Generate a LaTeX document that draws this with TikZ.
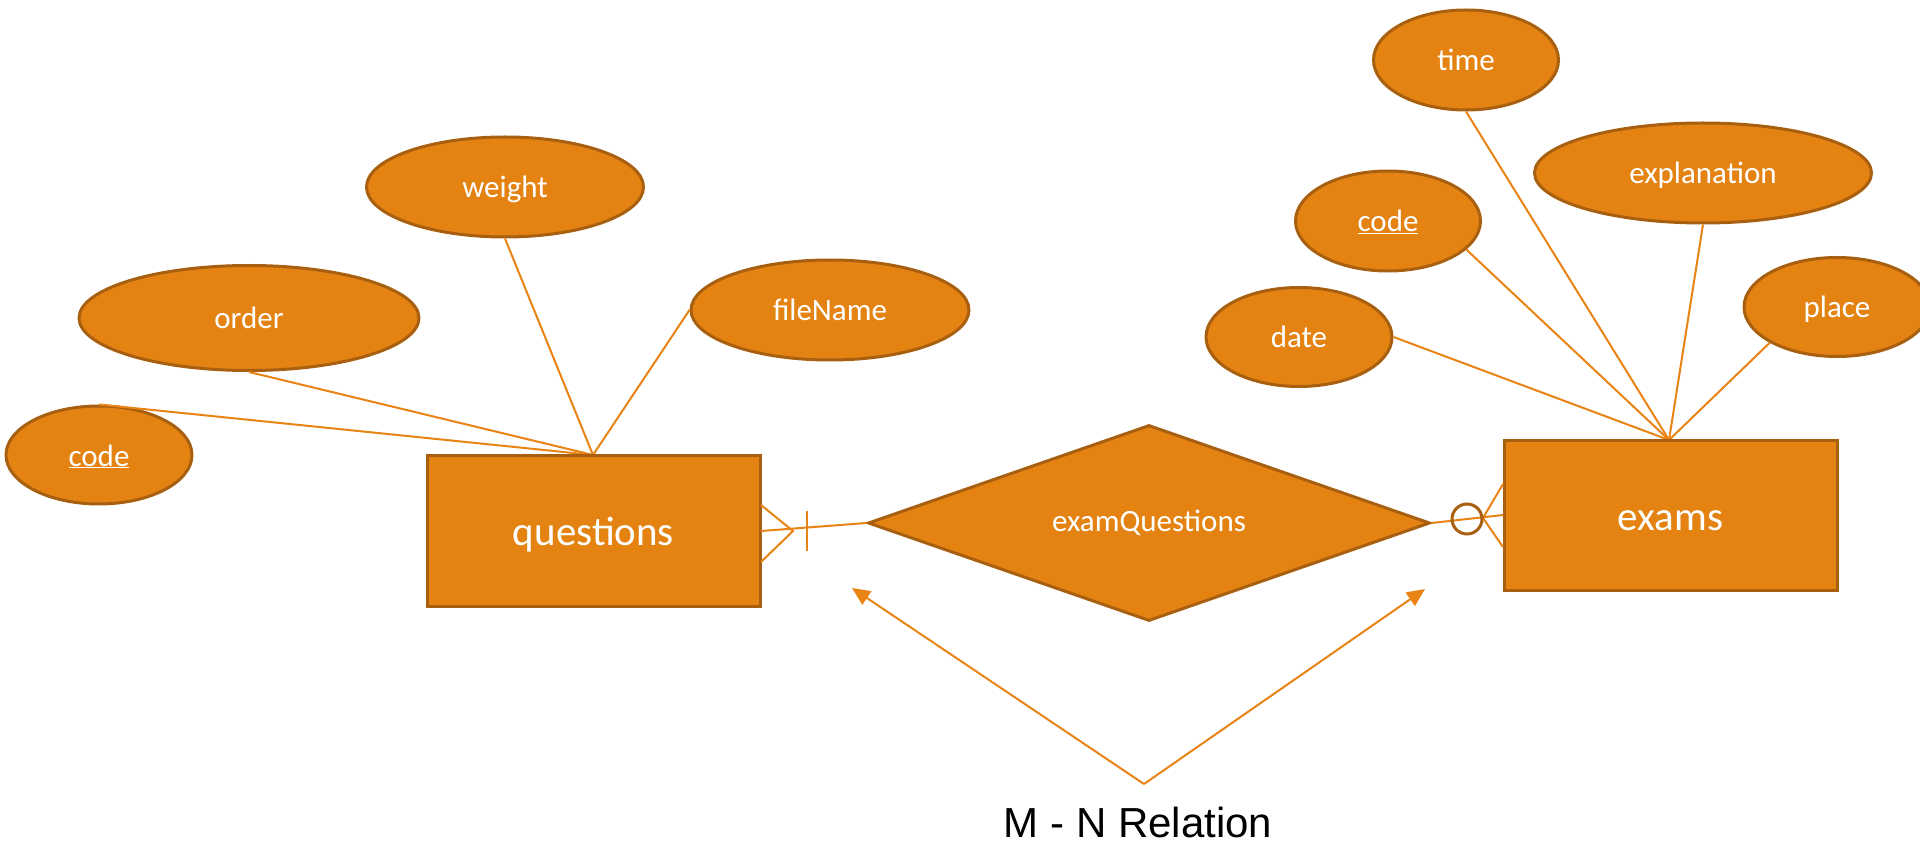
\documentclass[tikz,border=0pt]{standalone}
\usepackage{fontspec}
\setmainfont{Carlito}
\newfontfamily\arialfont{Liberation Sans}
\usetikzlibrary{shapes.geometric,arrows.meta}
\definecolor{fillorange}{RGB}{228,131,18}
\definecolor{edgebrown}{RGB}{168,96,16}
\definecolor{lineorange}{RGB}{232,131,20}
\tikzset{
  entity/.style={draw=edgebrown,fill=fillorange,line width=3pt,inner sep=0pt,
    text=white,font=\fontsize{41pt}{41pt}\selectfont,text height=38pt,text depth=8pt},
  attr/.style={ellipse,draw=edgebrown,fill=fillorange,line width=3pt,inner sep=0pt,
    text=white,font=\fontsize{31pt}{31pt}\selectfont,text height=28pt,text depth=6pt},
  rel/.style={diamond,draw=edgebrown,fill=fillorange,line width=3pt,inner sep=0pt,
    shape aspect=2.87,
    text=white,font=\fontsize{31pt}{31pt}\selectfont},
  conn/.style={draw=lineorange,line width=2pt},
  ring/.style={draw=edgebrown,line width=3pt},
  pointer/.style={draw=lineorange,line width=2pt,-{Triangle[length=18pt,width=16pt]}}
}
\begin{document}
\begin{tikzpicture}[x=1pt,y=-1pt]
\useasboundingbox (0,0) rectangle (1920,850);
\coordinate (qtop) at (593,455);
\coordinate (etop) at (1669,440);
% attributes
\node[attr,minimum width=186pt,minimum height=98pt] (qcode) at (99,455) {\underline{code}};
\node[attr,minimum width=340pt,minimum height=105pt] (order) at (249,318) {order};
\node[attr,minimum width=277pt,minimum height=100pt] (weight) at (505,187) {weight};
\node[attr,minimum width=278pt,minimum height=100pt] (fileName) at (830,310) {fileName};
\node[attr,minimum width=185pt,minimum height=100pt] (time) at (1466,60) {time};
\node[attr,minimum width=337pt,minimum height=100pt] (explanation) at (1703,173) {explanation};
\node[attr,minimum width=185pt,minimum height=100pt] (ecode) at (1388,221) {\underline{code}};
\node[attr,minimum width=186pt,minimum height=99pt] (date) at (1299,337) {date};
\node[attr,minimum width=186pt,minimum height=99pt] (place) at (1837,307) {place};
\draw[conn] (qcode.north) -- (qtop);
\draw[conn] (order.south) -- (qtop);
\draw[conn] (weight.south) -- (qtop);
\draw[conn] (fileName.west) -- (qtop);
\draw[conn] (time.south) -- (etop);
\draw[conn] (explanation.south) -- (etop);
\draw[conn] (ecode.-20) -- (etop);
\draw[conn] (date.east) -- (etop);
\draw[conn] (place.208) -- (etop);
% entities
\node[entity,minimum width=333pt,minimum height=151pt] (questions) at (593.5,530.5) {questions};
\node[entity,minimum width=333pt,minimum height=150pt] (exams) at (1670.5,515) {exams};
\node[rel,minimum width=562pt,minimum height=196pt] (examQuestions) at (1149,523) {examQuestions};
% questions side: one-or-many
\coordinate (qa) at (761,531);
\coordinate (qf) at (793,531);
\coordinate (qu) at (761,505);
\coordinate (ql) at (761,562);
\coordinate (qb1) at (807,511);
\coordinate (qb2) at (807,551);
\draw[conn] (qa) -- (examQuestions.west);
\draw[conn] (qu) -- (qf) -- (ql);
\draw[conn] (qb1) -- (qb2);
% exams side: zero-or-many
\coordinate (ea) at (1503,515);
\coordinate (ef) at (1483,518);
\coordinate (eu) at (1503,484);
\coordinate (el) at (1503,547);
\draw[conn] (examQuestions.east) -- (ea);
\draw[conn] (eu) -- (ef) -- (el);
\node[ring,circle,minimum size=30pt,inner sep=0pt] (zero) at (1467,519) {};
% M-N pointers
\coordinate (apex) at (1144,784);
\coordinate (tipL) at (852,588);
\coordinate (tipR) at (1425,589);
\draw[pointer] (apex) -- (tipL);
\draw[pointer] (apex) -- (tipR);
\node[anchor=base,font=\arialfont\fontsize{42pt}{42pt}\selectfont,text=black,inner sep=0pt] (mn) at (1138,837) {M - N Relation};
\end{tikzpicture}
\end{document}
